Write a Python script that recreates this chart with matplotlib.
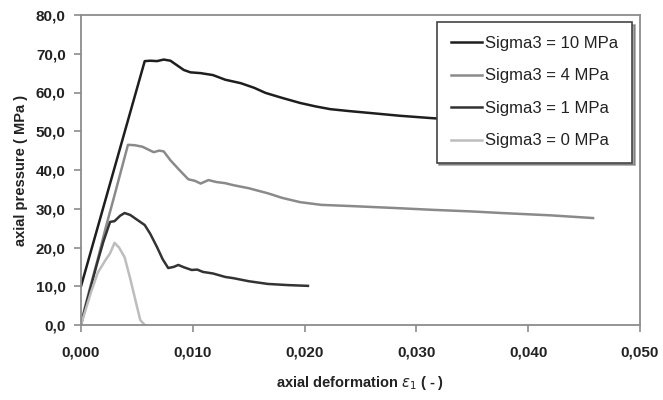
import matplotlib
matplotlib.use('Agg')
import matplotlib.pyplot as plt
from matplotlib.ticker import FuncFormatter

plt.rcParams['font.family'] = ['Liberation Sans', 'DejaVu Sans']

# Sigma3 = 10 MPa
eps_10 = [0.0, 0.0057, 0.0062, 0.0068, 0.0074,
          0.0080, 0.0086, 0.0092, 0.0098, 0.0107, 0.0118, 0.0129, 0.0143, 0.0155, 0.0165,
          0.0180, 0.0196, 0.0210, 0.0223, 0.0240, 0.0259, 0.0285, 0.0313, 0.0340, 0.0360]
sig_10 = [10.0, 68.1, 68.2, 68.1, 68.5,
          68.2, 67.0, 65.8, 65.2, 65.0, 64.5, 63.3, 62.4, 61.2, 59.9,
          58.6, 57.3, 56.4, 55.7, 55.2, 54.7, 54.0, 53.4, 52.9, 52.6]

# Sigma3 = 4 MPa
eps_4 = [0.0, 0.0003, 0.0008, 0.0015, 0.0022, 0.0030, 0.0036, 0.0042, 0.0048, 0.0055,
         0.0060, 0.0065, 0.0070, 0.0074, 0.0080, 0.0088, 0.0096, 0.0102, 0.0107, 0.0114,
         0.0121, 0.0129, 0.0136, 0.0150, 0.0167, 0.0180, 0.0196, 0.0215, 0.0241, 0.0280,
         0.0316, 0.0350, 0.0376, 0.0420, 0.0458]
sig_4 = [0.0, 4.0, 9.5, 17.0, 25.0, 33.5, 40.0, 46.5, 46.4, 46.0,
         45.3, 44.6, 45.0, 44.8, 42.5, 40.0, 37.6, 37.2, 36.5, 37.4,
         36.9, 36.6, 36.1, 35.3, 34.0, 32.8, 31.7, 31.0, 30.7, 30.2,
         29.7, 29.3, 28.9, 28.3, 27.6]

# Sigma3 = 1 MPa
eps_1 = [0.0, 0.0003, 0.0008, 0.0014, 0.0020, 0.0026, 0.0030, 0.0035, 0.0039, 0.0044,
         0.0050, 0.0057, 0.0062, 0.0068, 0.0073, 0.0078, 0.0083, 0.0087, 0.0092, 0.0099,
         0.0104, 0.0109, 0.0118, 0.0129, 0.0136, 0.0150, 0.0167, 0.0185, 0.0203]
sig_1 = [0.0, 3.5, 9.0, 15.5, 21.5, 26.6, 26.8, 28.2, 28.9, 28.4,
         27.2, 25.8, 23.5, 20.1, 17.0, 14.7, 15.0, 15.5, 14.9, 14.2,
         14.3, 13.7, 13.3, 12.4, 12.1, 11.3, 10.6, 10.3, 10.1]

# Sigma3 = 0 MPa
eps_0 = [0.0, 0.0004, 0.0009, 0.0015, 0.0022, 0.0026, 0.0030, 0.0034, 0.0039, 0.0044,
         0.0049, 0.0053, 0.0057]
sig_0 = [0.0, 3.8, 8.5, 13.5, 16.8, 18.5, 21.2, 20.0, 17.5, 12.0,
         6.0, 1.3, 0.0]

series = [
    (eps_10, sig_10, '#1e1e1e', 'Sigma3 = 10 MPa'),
    (eps_4, sig_4, '#8a8a8a', 'Sigma3 = 4 MPa'),
    (eps_1, sig_1, '#333333', 'Sigma3 = 1 MPa'),
    (eps_0, sig_0, '#bdbdbd', 'Sigma3 = 0 MPa'),
]

fig = plt.figure(figsize=(6.63, 4.0), dpi=100)
ax = fig.add_axes([81 / 663, 75 / 400, 559 / 663, 310 / 400])

for x, y, c, lab in series:
    ax.plot(x, y, color=c, lw=1.8, label=lab)

ax.set_xlim(0, 0.05)
ax.set_ylim(0, 80)
ax.set_xticks([0, 0.01, 0.02, 0.03, 0.04, 0.05])
ax.set_yticks(range(0, 81, 10))
ax.xaxis.set_major_formatter(FuncFormatter(lambda v, p: f'{v:.3f}'.replace('.', ',')))
ax.yaxis.set_major_formatter(FuncFormatter(lambda v, p: f'{v:.1f}'.replace('.', ',')))

for s in ax.spines.values():
    s.set_color('#8c8c8c')
    s.set_linewidth(1.3)
ax.tick_params(colors='#8c8c8c', length=5, width=1.2, labelsize=11, labelcolor='#222222')
ax.tick_params(axis='x', pad=10)
ax.tick_params(axis='y', pad=6)
for lab in ax.get_xticklabels() + ax.get_yticklabels():
    lab.set_fontweight('bold')

ax.set_xlabel(r'axial deformation $\varepsilon_1$ ( - )', fontsize=10.5, fontweight='bold',
              color='#222222', labelpad=10)
ax.set_ylabel('axial pressure ( MPa )', fontsize=10.5, fontweight='bold', color='#222222', labelpad=6)

leg = ax.legend(loc='upper right', bbox_to_anchor=(0.986, 0.978), borderaxespad=0,
                fancybox=False, shadow=True, framealpha=1, edgecolor='#444444',
                fontsize=12, handlelength=1.9, handletextpad=0.15, labelspacing=1.05,
                borderpad=0.85)
leg.get_frame().set_linewidth(1.2)
for t in leg.get_texts():
    t.set_color('#222222')

fig.savefig('out.png', dpi=100)
